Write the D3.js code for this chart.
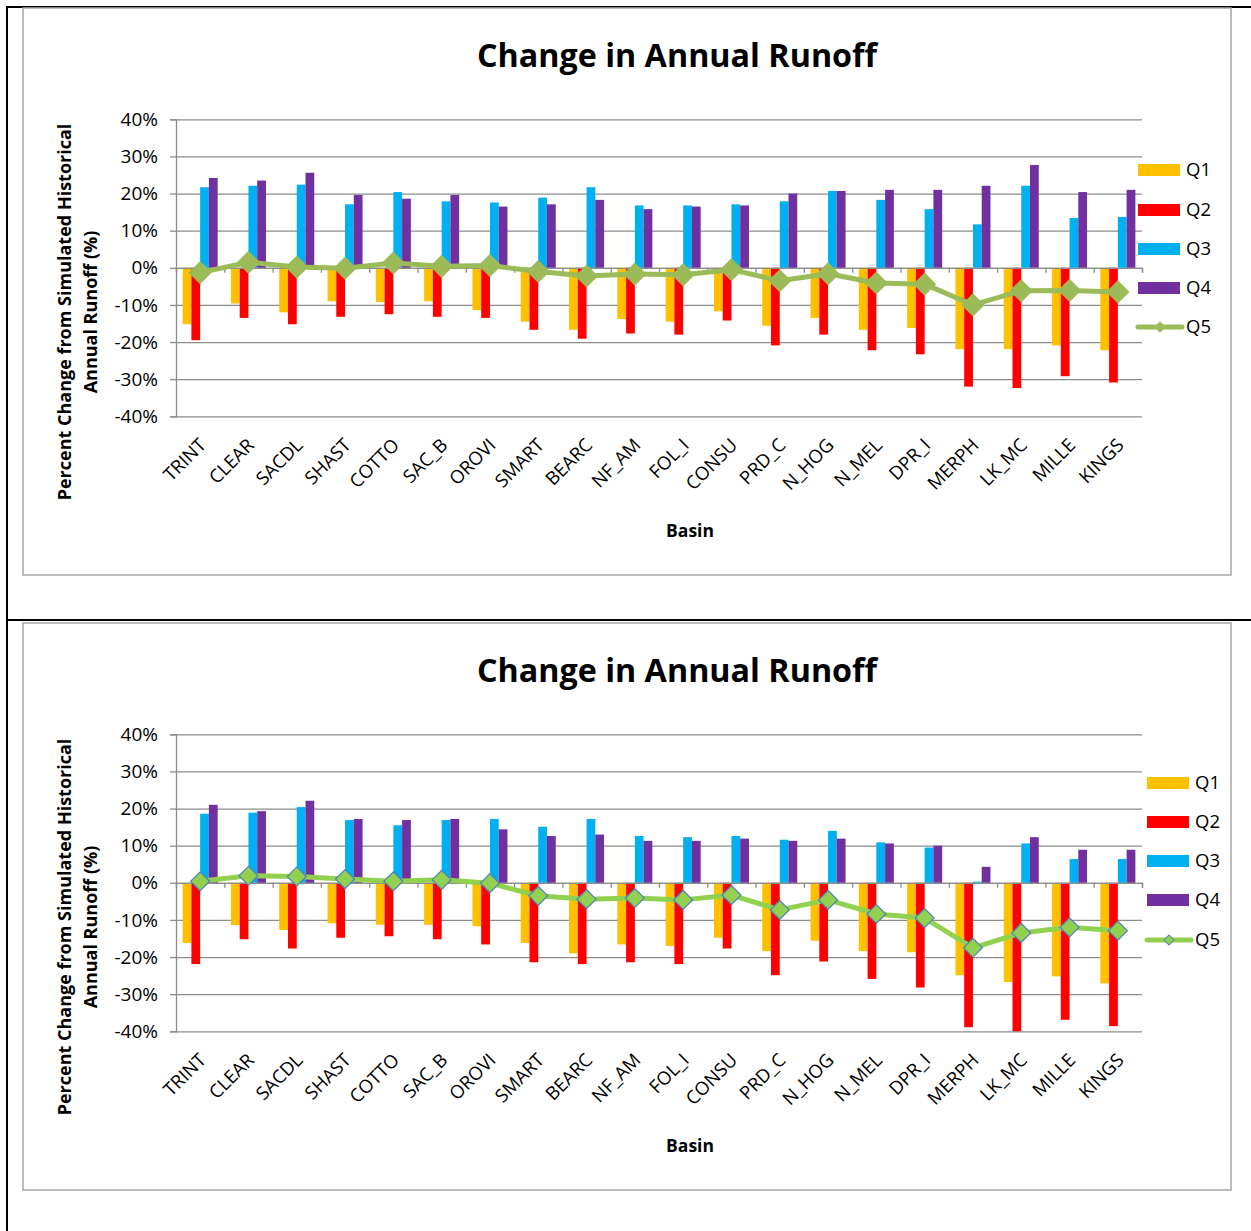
<!DOCTYPE html>
<html>
<head>
<meta charset="utf-8">
<script src="https://cdn.jsdelivr.net/npm/d3@7"></script>
<style>
  body { margin: 0; background: #fff; }
  svg { display: block; }
  text { font-family: "Open Sans", sans-serif; fill: #000; }
</style>
</head>
<body>
<svg id="chart" width="1251" height="1231"></svg>
<script>
const basins = ["TRINT", "CLEAR", "SACDL", "SHAST", "COTTO", "SAC_B", "OROVI", "SMART", "BEARC", "NF_AM",
                "FOL_I", "CONSU", "PRD_C", "N_HOG", "N_MEL", "DPR_I", "MERPH", "LK_MC", "MILLE", "KINGS"];
const yTicks = [40, 30, 20, 10, 0, -10, -20, -30, -40];
const barSeries = ["Q1", "Q2", "Q3", "Q4"];
const barColors = ["#FFC000", "#FF0000", "#00B0F0", "#7030A0"];

// top chart (percent)
const topQ1 = [-15.2, -9.6, -12.0, -9.0, -9.2, -9.0, -11.4, -14.5, -16.7, -13.8, -14.5, -11.7, -15.6, -13.5, -16.7, -16.2, -21.9, -21.9, -20.9, -22.2];
const topQ2 = [-19.5, -13.5, -15.2, -13.2, -12.5, -13.2, -13.5, -16.7, -19.1, -17.7, -18.0, -14.2, -20.9, -18.0, -22.2, -23.3, -32.0, -32.4, -29.2, -30.9];
const topQ3 = [21.7, 22.1, 22.4, 17.1, 20.4, 17.9, 17.6, 18.9, 21.7, 16.8, 16.8, 17.1, 17.9, 20.7, 18.3, 15.8, 11.7, 22.1, 13.4, 13.7];
const topQ4 = [24.2, 23.5, 25.6, 19.6, 18.6, 19.6, 16.5, 17.1, 18.3, 15.8, 16.5, 16.8, 20.0, 20.7, 21.0, 21.0, 22.1, 27.7, 20.4, 21.0];
const topQ5 = [-1.3, 1.5, 0.2, -0.1, 1.3, 0.4, 0.6, -1.0, -2.2, -1.7, -1.9, -0.5, -3.5, -1.6, -4.1, -4.4, -10.0, -6.2, -6.1, -6.5];

// bottom chart (percent)
const botQ1 = [-16.2, -11.4, -12.7, -10.9, -11.3, -11.3, -11.7, -16.2, -19.0, -16.6, -17.0, -14.8, -18.4, -15.6, -18.4, -18.7, -24.9, -26.7, -25.2, -27.1];
const botQ2 = [-21.9, -15.2, -17.7, -14.8, -14.4, -15.2, -16.6, -21.4, -21.9, -21.4, -21.9, -17.7, -24.9, -21.2, -25.9, -28.2, -38.9, -40.4, -36.9, -38.6];
const botQ3 = [18.6, 18.9, 20.4, 16.9, 15.5, 16.9, 17.2, 15.1, 17.2, 12.6, 12.3, 12.6, 11.6, 14.0, 10.9, 9.5, 0.3, 10.6, 6.4, 6.4];
const botQ4 = [21.0, 19.3, 22.1, 17.2, 16.9, 17.2, 14.4, 12.6, 13.0, 11.3, 11.3, 11.9, 11.3, 11.9, 10.6, 10.0, 4.3, 12.3, 8.9, 8.9];
const botQ5 = [0.4, 1.9, 1.7, 1.0, 0.4, 0.8, -0.1, -3.5, -4.4, -4.1, -4.6, -3.3, -7.3, -4.6, -8.4, -9.5, -17.5, -13.5, -12.0, -12.9];

const svg = d3.select("#chart");

// outer black frame
svg.append("line").attr("x1", 7).attr("x2", 1251).attr("y1", 7).attr("y2", 7).attr("stroke", "#000").attr("stroke-width", 2);
svg.append("line").attr("x1", 7).attr("x2", 7).attr("y1", 6).attr("y2", 1231).attr("stroke", "#000").attr("stroke-width", 2);
svg.append("line").attr("x1", 7).attr("x2", 1251).attr("y1", 620).attr("y2", 620).attr("stroke", "#000").attr("stroke-width", 2);

function drawChart(id, offY, bars, q5, opts) {
    const margin = {top: 119.3, left: 176};
    const width = 966, height = 297;

    const chart = svg.append("g").attr("transform", `translate(0, ${offY})`);

    chart.append("rect")
        .attr("x", 23).attr("y", 8).attr("width", 1208).attr("height", 567)
        .attr("fill", "#fff").attr("stroke", "#a6a6a6").attr("stroke-width", 1.5);

    chart.append("text")
        .attr("x", 677).attr("y", 67)
        .attr("text-anchor", "middle")
        .attr("font-size", 32.3).attr("font-weight", "bold")
        .text("Change in Annual Runoff");

    const g = chart.append("g").attr("transform", `translate(${margin.left}, ${margin.top})`);

    const x = d3.scaleBand().domain(basins).range([0, width]).paddingInner(0.275).paddingOuter(0.1375);
    const xs = d3.scaleBand().domain(barSeries).range([0, x.bandwidth()]);
    const y = d3.scaleLinear().domain([-40, 40]).range([height, 0]);
    const xb = d3.scaleLinear().domain([0, basins.length]).range([0, width]);

    // gridlines
    g.append("g")
        .call(d3.axisLeft(y).tickValues(yTicks).tickSize(-width).tickFormat(""))
        .call(a => a.select(".domain").remove())
        .call(a => a.selectAll("line").attr("stroke", "#8c8c8c").attr("stroke-width", 1.3));

    // y axis
    g.append("g")
        .call(d3.axisLeft(y).tickValues(yTicks).tickSize(6).tickPadding(12).tickFormat(d => d + "%"))
        .call(a => a.select(".domain").attr("stroke", "#8c8c8c").attr("stroke-width", 1.3))
        .call(a => a.selectAll("line").attr("stroke", "#8c8c8c").attr("stroke-width", 1.3))
        .call(a => a.selectAll("text").attr("font-size", 19).attr("font-family", "Open Sans"));

    // bars
    const clipId = "clip-" + id;
    g.append("clipPath").attr("id", clipId)
        .append("rect").attr("x", 0).attr("y", 0).attr("width", width).attr("height", height);

    const barG = g.append("g").attr("clip-path", `url(#${clipId})`);
    bars.forEach((vals, i) => {
        barG.selectAll(".bar-" + i)
            .data(vals)
            .enter().append("rect")
                .attr("class", "bar-" + i)
                .attr("x", (d, j) => x(basins[j]) + xs(barSeries[i]))
                .attr("y", d => y(Math.max(0, d)))
                .attr("width", xs.bandwidth())
                .attr("height", d => Math.abs(y(d) - y(0)))
                .attr("fill", barColors[i]);
    });

    // x axis at zero
    g.append("g")
        .attr("transform", `translate(0, ${y(0)})`)
        .call(d3.axisBottom(xb).ticks(basins.length).tickSize(5).tickFormat(""))
        .call(a => a.select(".domain").attr("stroke", "#8c8c8c").attr("stroke-width", 1.3))
        .call(a => a.selectAll("line").attr("stroke", "#8c8c8c").attr("stroke-width", 1.3));

    // x labels
    g.append("g").selectAll("text")
        .data(basins)
        .enter().append("text")
            .attr("transform", d => `translate(${x(d) + x.bandwidth() / 2 + 7}, ${height + 30}) rotate(-45)`)
            .attr("text-anchor", "end")
            .attr("font-size", 18.5)
            .text(d => d);

    // Q5 line
    const cx = (d, j) => x(basins[j]) + x.bandwidth() / 2;
    g.append("path")
        .datum(q5)
        .attr("fill", "none")
        .attr("stroke", opts.lineColor)
        .attr("stroke-width", 5)
        .attr("stroke-linejoin", "round")
        .attr("d", d3.line().x(cx).y(d => y(d)));

    const marker = d3.symbol(d3.symbolSquare, opts.markerSize);
    g.selectAll(".q5pt")
        .data(q5)
        .enter().append("path")
            .attr("class", "q5pt")
            .attr("transform", (d, j) => `translate(${cx(d, j)}, ${y(d)}) rotate(45)`)
            .attr("d", marker)
            .attr("fill", opts.lineColor)
            .attr("stroke", opts.markerStroke)
            .attr("stroke-width", 1.2);

    // axis titles
    const yt = chart.append("text")
        .attr("transform", "translate(0, 312) rotate(-90)")
        .attr("text-anchor", "middle")
        .attr("font-size", 18).attr("font-weight", "bold");
    yt.append("tspan").attr("x", 0).attr("y", 71).text("Percent Change from Simulated Historical");
    yt.append("tspan").attr("x", 0).attr("y", 97).text("Annual Runoff  (%)");

    chart.append("text")
        .attr("x", 690).attr("y", 537)
        .attr("text-anchor", "middle")
        .attr("font-size", 17.5).attr("font-weight", "bold")
        .text("Basin");

    // legend
    const names = barSeries.concat(["Q5"]);
    const lg = chart.append("g").attr("transform", `translate(${opts.legendX}, 0)`);
    names.forEach((name, i) => {
        const ly = opts.legendY[i];
        if (i < 4) {
            lg.append("rect").attr("x", 0).attr("y", ly - 6).attr("width", 42).attr("height", 12).attr("fill", barColors[i]);
        } else {
            lg.append("line").attr("x1", 0).attr("x2", 44).attr("y1", ly).attr("y2", ly)
                .attr("stroke", opts.lineColor).attr("stroke-width", 5).attr("stroke-linecap", "round");
            lg.append("path").attr("transform", `translate(22, ${ly}) rotate(45)`)
                .attr("d", d3.symbol(d3.symbolSquare, 50))
                .attr("fill", opts.lineColor).attr("stroke", opts.markerStroke).attr("stroke-width", 1);
        }
        lg.append("text").attr("x", 48).attr("y", ly).attr("dy", "0.35em")
            .attr("font-size", 18.5).text(name);
    });
}

drawChart("top", 0, [topQ1, topQ2, topQ3, topQ4], topQ5,
    {lineColor: "#9BBB59", markerStroke: "#9BBB59", markerSize: 230, legendX: 1138, legendY: [170, 210, 249, 288, 327]});
drawChart("bottom", 615, [botQ1, botQ2, botQ3, botQ4], botQ5,
    {lineColor: "#92D050", markerStroke: "#4F81BD", markerSize: 180, legendX: 1147, legendY: [168, 207, 246, 285, 325]});
</script>
</body>
</html>
